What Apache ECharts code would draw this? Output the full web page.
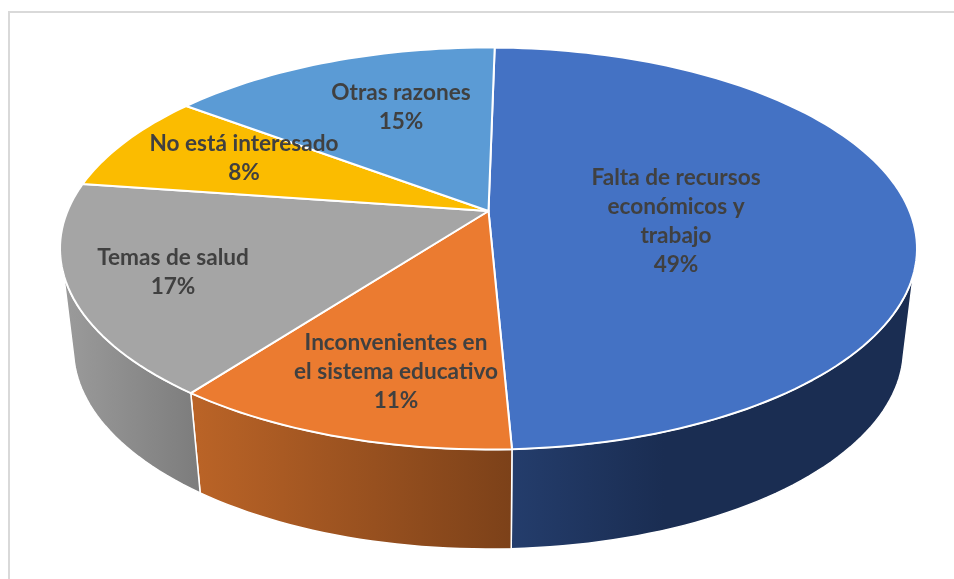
<!DOCTYPE html>
<html>
<head>
<meta charset="utf-8">
<style>html,body{margin:0;padding:0;background:#fff}#chart{width:954px;height:579px}</style>
<script src="https://cdn.jsdelivr.net/npm/echarts@6/dist/echarts.min.js"></script>
</head>
<body>
<div id="chart"></div>
<script>
// Motivos de abandono, in percent, clockwise from twelve o'clock
const categories = [
  'Falta de recursos\neconómicos y\ntrabajo',
  'Inconvenientes en\nel sistema educativo',
  'Temas de salud',
  'No está interesado',
  'Otras razones'
];
const shares = [49, 11, 17, 8, 15];
const faceColors = ['#4472c4', '#eb7b30', '#a5a5a5', '#fbbc00', '#5b9bd5'];
const wallColors = [
  ['#243d6c', '#1a2d52'],
  ['#bb6427', '#7c4119'],
  ['#9b9b9b', '#7c7c7c'],
  ['#a07800', '#a07800'],
  ['#3a6ea0', '#3a6ea0']
];
const labelCentres = [[676, 163], [396, 328], [173, 243], [244, 129], [401, 78]];

// Perspective of the disc: each rim is an ellipse whose hub sits off its centre
const TILT = 0.1866;
const START_DEG = 1;
const topRim = { cx: 488.5, cy: 248.5, rx: 428.5, ry: 201 };
const bottomRim = { cx: 488.5, cy: 349, rx: 415, ry: 200 };
const topVisible = [108, 252];
const bottomVisible = [103, 257];

function rimPoint(rim, deg) {
  const t = deg * Math.PI / 180;
  const c = Math.cos(t), s = Math.sin(t);
  const q = 1 - TILT * TILT;
  const w = 1 + TILT * c;
  return [
    rim.cx + rim.rx * Math.sqrt(q) * s / w,
    rim.cy - rim.ry * TILT - rim.ry * q * c / w
  ];
}
function hub(rim) {
  return [rim.cx, rim.cy - rim.ry * TILT];
}
function arc(rim, from, to) {
  const pts = [];
  const n = Math.max(2, Math.ceil(Math.abs(to - from) / 1.5));
  for (let i = 0; i <= n; i++) pts.push(rimPoint(rim, from + (to - from) * i / n));
  return pts;
}
const total = shares.reduce((a, b) => a + b, 0);
function sliceRange(idx) {
  let before = 0;
  for (let i = 0; i < idx; i++) before += shares[i];
  const a = START_DEG + before / total * 360;
  return [a, a + shares[idx] / total * 360];
}
const rows = shares.map((v, i) => [i, v]);

function renderWall(params, api) {
  const i = api.value(0);
  const [a, b] = sliceRange(i);
  const t0 = Math.max(a, topVisible[0]), t1 = Math.min(b, topVisible[1]);
  if (t1 <= t0) return null;
  const b0 = a <= topVisible[0] ? bottomVisible[0] : a;
  const b1 = b >= topVisible[1] ? bottomVisible[1] : b;
  const points = arc(topRim, t0, t1).concat(arc(bottomRim, b1, b0));
  return {
    type: 'polygon',
    shape: { points },
    style: {
      fill: {
        type: 'linear', x: 0, y: 0, x2: 1, y2: 0,
        colorStops: i === 0
          ? [{ offset: 0, color: wallColors[i][0] }, { offset: 0.38, color: wallColors[i][1] }, { offset: 1, color: wallColors[i][1] }]
          : [{ offset: 0, color: wallColors[i][0] }, { offset: 1, color: wallColors[i][1] }]
      },
      stroke: '#fff',
      lineWidth: 1.5,
      lineJoin: 'round'
    }
  };
}
function renderFace(params, api) {
  const i = api.value(0);
  const [a, b] = sliceRange(i);
  return {
    type: 'polygon',
    shape: { points: [hub(topRim)].concat(arc(topRim, a, b)) },
    style: { fill: faceColors[i], stroke: '#fff', lineWidth: 2, lineJoin: 'round' }
  };
}
function renderLabel(params, api) {
  const i = api.value(0);
  const [x, y] = labelCentres[i];
  return {
    type: 'text',
    x, y,
    style: {
      text: categories[i] + '\n' + api.value(1) + '%',
      fill: '#404040',
      font: 'bold 22.6px Lato, "Open Sans", sans-serif',
      lineHeight: 29,
      align: 'center',
      verticalAlign: 'top'
    }
  };
}

const chart = echarts.init(document.getElementById('chart'), null, { renderer: 'canvas' });
chart.setOption({
  animation: false,
  backgroundColor: '#fff',
  graphic: [{
    type: 'rect',
    shape: { x: 9, y: 12, width: 980, height: 600 },
    style: { fill: 'none', stroke: '#d9d9d9', lineWidth: 2 },
    silent: true,
    z: 0
  }],
  series: [
    { type: 'custom', coordinateSystem: 'none', data: rows, renderItem: renderWall, z: 2, silent: true },
    { type: 'custom', coordinateSystem: 'none', data: rows, renderItem: renderFace, z: 3, silent: true },
    { type: 'custom', coordinateSystem: 'none', data: rows, renderItem: renderLabel, z: 4, silent: true }
  ]
});
</script>
</body>
</html>
